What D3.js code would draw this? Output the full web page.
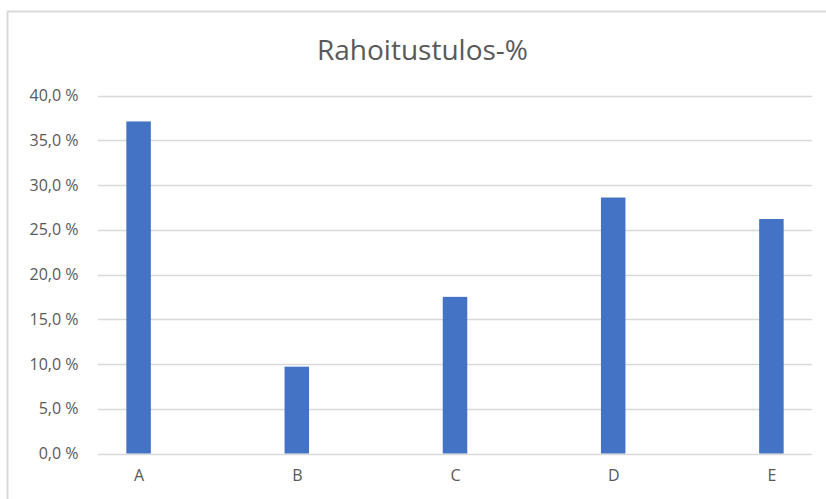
<!DOCTYPE html>
<html>
<head>
<meta charset="utf-8">
<script src="https://cdn.jsdelivr.net/npm/d3@7"></script>
<style>
  html, body { margin: 0; padding: 0; background: #fff; }
  svg { display: block; }
  text { font-family: "Open Sans", "Noto Sans", sans-serif; fill: #595959; }
</style>
</head>
<body>
<svg id="chart" width="826" height="499"></svg>
<script>
// Rahoitustulos-% by unit
const categories = ["A", "B", "C", "D", "E"];
const values = [37.1, 9.7, 17.5, 28.6, 26.2];
const yTicks = [0, 5, 10, 15, 20, 25, 30, 35, 40];
const title = "Rahoitustulos-%";

const plot = { left: 98, right: 812, top: 95.5, bottom: 453.5 };

const svg = d3.select("#chart");

// chart frame (extends past the right and bottom edges)
svg.append("rect")
  .attr("x", 7.5).attr("y", 11.5)
  .attr("width", 860).attr("height", 520)
  .attr("fill", "#fff")
  .attr("stroke", "#d9d9d9")
  .attr("stroke-width", 2);

const x = d3.scalePoint()
  .domain(categories)
  .range([plot.left, plot.right])
  .padding(0.2566);

const y = d3.scaleLinear()
  .domain([0, 40])
  .range([plot.bottom, plot.top]);

const fmt = v => v.toFixed(1).replace(".", ",") + " %";

// horizontal gridlines
svg.append("g")
  .selectAll("line")
  .data(yTicks)
  .join("line")
  .attr("x1", plot.left).attr("x2", plot.right)
  .attr("y1", d => Math.round(y(d)) + 0.5)
  .attr("y2", d => Math.round(y(d)) + 0.5)
  .attr("stroke", "#d9d9d9")
  .attr("stroke-width", 1.5);

// y axis labels
const yAxis = d3.axisLeft(y)
  .tickValues(yTicks)
  .tickFormat(fmt)
  .tickSize(0)
  .tickPadding(0);
const gy = svg.append("g")
  .attr("transform", `translate(${78.5},0)`)
  .call(yAxis);
gy.select(".domain").remove();
gy.selectAll("text")
  .attr("font-size", 16)
  .attr("font-family", "\"Open Sans\", sans-serif")
  .attr("fill", "#595959");

// bars
const barW = 24.5;
svg.append("g")
  .selectAll("rect")
  .data(values)
  .join("rect")
  .attr("x", (d, i) => x(categories[i]) - barW / 2)
  .attr("y", d => y(d))
  .attr("width", barW)
  .attr("height", d => y(0) - y(d))
  .attr("fill", "#4472c4");

// category labels
const xAxis = d3.axisBottom(x).tickSize(0).tickPadding(0);
const gx = svg.append("g")
  .attr("transform", `translate(0,${plot.bottom + 16})`)
  .call(xAxis);
gx.select(".domain").remove();
gx.selectAll("text")
  .attr("font-size", 16)
  .attr("font-family", "\"Open Sans\", sans-serif")
  .attr("fill", "#595959");

// title
svg.append("text")
  .attr("x", 422.5)
  .attr("y", 60)
  .attr("text-anchor", "middle")
  .attr("font-size", 28)
  .text(title);
</script>
</body>
</html>
